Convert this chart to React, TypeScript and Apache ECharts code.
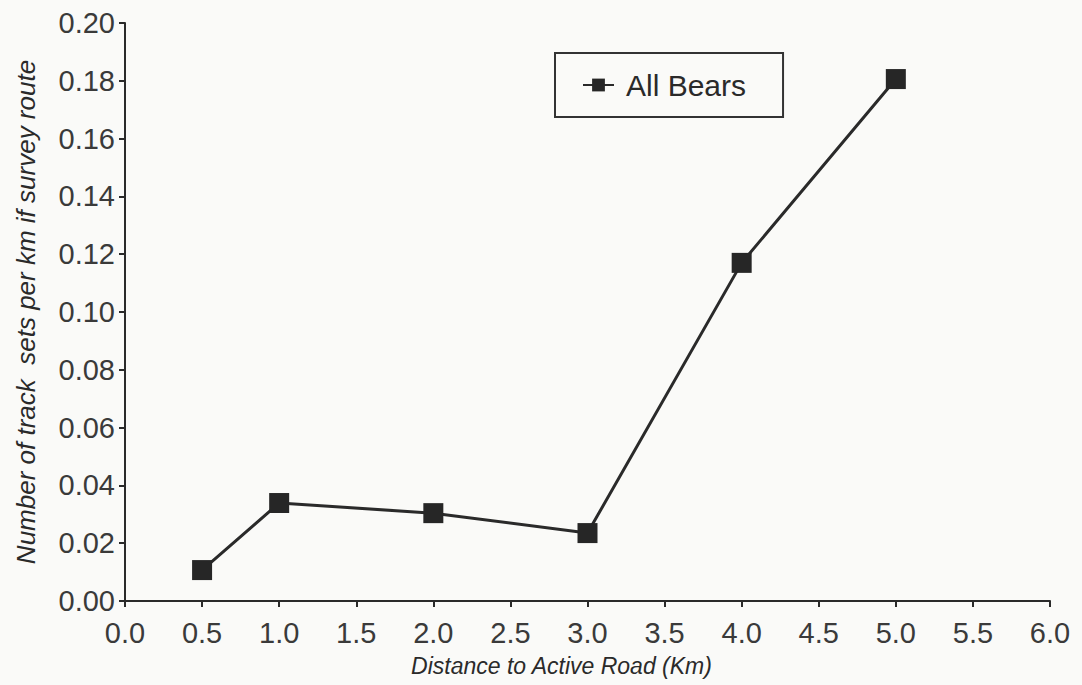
import React, { useEffect, useRef } from "react";
import * as echarts from "echarts";

const distances = [0.5, 1.0, 2.0, 3.0, 4.0, 5.0];
const trackSets = [0.0107, 0.0339, 0.0304, 0.0235, 0.117, 0.1806];
const seriesName = "All Bears";
const xTitle = "Distance to Active Road (Km)";
const yTitle = "Number of track  sets per km if survey route";

export default function App() {
  const ref = useRef<HTMLDivElement>(null);
  useEffect(() => {
    if (!ref.current) return;
    const chart = echarts.init(ref.current, null, { renderer: "svg" });
    const font = "'Liberation Sans', Arial, Helvetica, sans-serif";
    const ink = "#2a2a2a";
    chart.setOption({
      animation: false,
      backgroundColor: "#fafaf8",
      textStyle: { fontFamily: font },
      grid: {
        left: 125,
        right: 32,
        top: 23,
        bottom: 84,
        containLabel: false,
        outerBoundsMode: "none",
      },
      legend: {
        left: 555,
        top: 53,
        orient: "horizontal",
        padding: [17, 37, 17, 27],
        borderColor: "#333",
        borderWidth: 2,
        borderRadius: 0,
        itemWidth: 31,
        itemHeight: 16,
        textStyle: {
          fontSize: 30,
          lineHeight: 30,
          color: ink,
          fontFamily: font,
          padding: [0, 0, 0, 7],
        },
        data: [seriesName],
      },
      xAxis: {
        type: "value",
        min: 0,
        max: 6,
        interval: 0.5,
        name: xTitle,
        nameLocation: "middle",
        nameGap: 53,
        nameTextStyle: { fontSize: 23, fontStyle: "italic", color: ink, padding: [0, 52, 0, 0] },
        axisLine: { lineStyle: { color: ink, width: 2 } },
        axisTick: { show: true, length: 6, lineStyle: { color: ink, width: 2 } },
        axisLabel: {
          fontSize: 29,
          color: "#3a3a3a",
          margin: 17,
          formatter: (v: number) => v.toFixed(1),
        },
        splitLine: { show: false },
      },
      yAxis: {
        type: "value",
        min: 0,
        max: 0.2,
        interval: 0.02,
        name: yTitle,
        nameLocation: "middle",
        nameGap: 86,
        nameTextStyle: { fontSize: 26, fontStyle: "italic", color: ink },
        axisLine: { show: true, lineStyle: { color: ink, width: 2 } },
        axisTick: { show: true, length: 6, lineStyle: { color: ink, width: 2 } },
        axisLabel: {
          fontSize: 29,
          color: "#3a3a3a",
          margin: 10,
          formatter: (v: number) => v.toFixed(2),
        },
        splitLine: { show: false },
      },
      series: [
        {
          name: seriesName,
          type: "line",
          data: distances.map((d, i) => [d, trackSets[i]]),
          symbol: "rect",
          symbolSize: 20,
          lineStyle: { color: ink, width: 3 },
          itemStyle: { color: "#262626", borderWidth: 0 },
        },
      ],
    });
    return () => chart.dispose();
  }, []);
  return (
    <div
      ref={ref}
      style={{ position: "fixed", left: 0, top: 0, width: 1082, height: 685 }}
    />
  );
}
